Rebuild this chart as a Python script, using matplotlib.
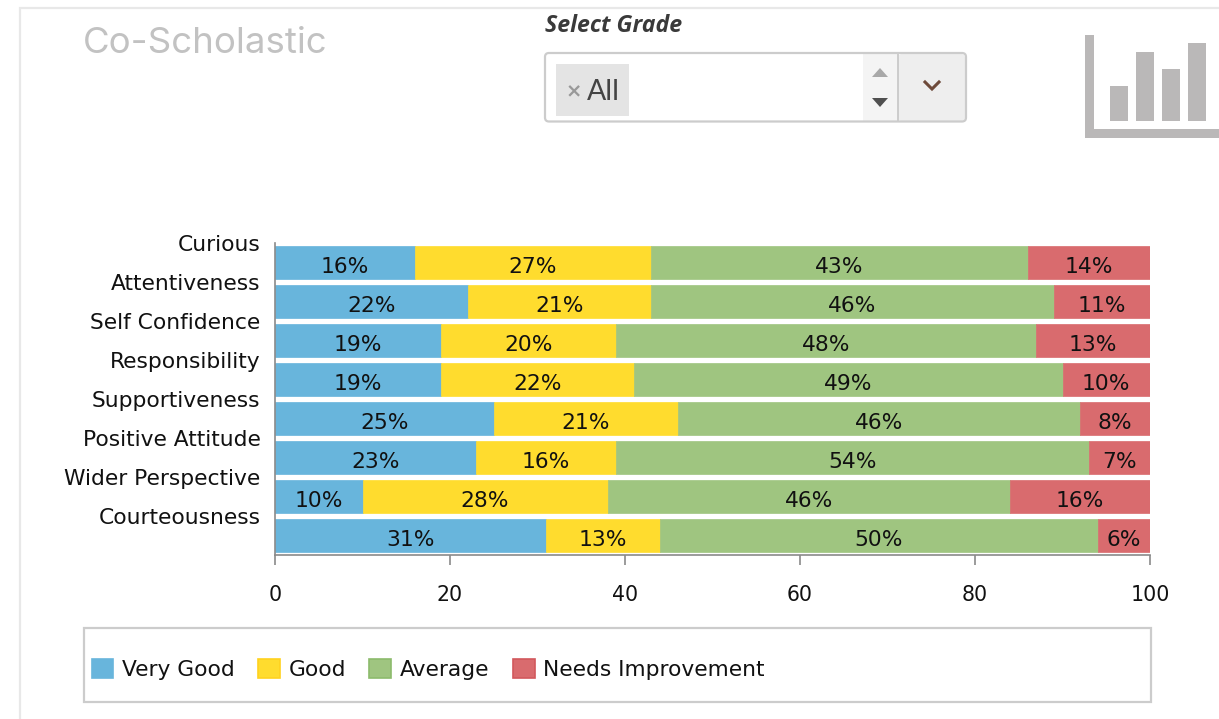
import matplotlib
matplotlib.use("Agg")
import matplotlib.pyplot as plt
from matplotlib.patches import Rectangle, Polygon, FancyBboxPatch
import matplotlib.transforms as mtrans
import numpy as np

plt.rcParams["font.family"] = "DejaVu Sans"

# Data
categories = ["Curious", "Attentiveness", "Self Confidence", "Responsibility",
              "Supportiveness", "Positive Attitude", "Wider Perspective", "Courteousness"]
very_good = [16, 22, 19, 19, 25, 23, 10, 31]
good = [27, 21, 20, 22, 21, 16, 28, 13]
average = [43, 46, 48, 49, 46, 54, 46, 50]
needs_improvement = [14, 11, 13, 10, 8, 7, 16, 6]
series_names = ["Very Good", "Good", "Average", "Needs Improvement"]
x_ticks = [0, 20, 40, 60, 80, 100]

series = [very_good, good, average, needs_improvement]
colors = ["#68b5dc", "#ffdc2e", "#9fc580", "#d96b6e"]
edges = ["#68b5dc", "#ffd21f", "#8cbb6c", "#d2585c"]

W, H = 1219, 719
fs = 15.7
fig = plt.figure(figsize=(W / 100, H / 100), dpi=100)

# Page furniture, in pixel coordinates
bg = fig.add_axes([0, 0, 1, 1])
bg.set_xlim(0, W)
bg.set_ylim(H, 0)
bg.axis("off")

bg.plot([19.5, 19.5, W], [H, 8, 8], color="#e8e8e8", lw=1.6, solid_joinstyle="miter")
bg.text(83, 43.5, "Co-Scholastic", fontsize=26.4, color="#c2c2c2", family="Inter",
        va="center", ha="left")
bg.text(545, 26.5, "Select Grade", fontsize=16.7, color="#3a3a3a", family="Open Sans",
        fontweight="bold", fontstyle="italic", va="center", ha="left")

# Select box
bg.add_patch(Rectangle((863, 54), 34, 67, fc="#f4f4f4", ec="none"))
bg.add_patch(FancyBboxPatch((898, 54), 67, 67, boxstyle="round,pad=0,rounding_size=4",
                            fc="#eeeeee", ec="none"))
bg.add_patch(FancyBboxPatch((545, 53), 421, 68.5, boxstyle="round,pad=0,rounding_size=4",
                            fc="none", ec="#cccccc", lw=1.6))
bg.plot([897.5, 897.5], [54, 121], color="#cccccc", lw=1.4)
bg.add_patch(Rectangle((556, 64), 73, 52, fc="#e4e4e4", ec="none"))
bg.text(566, 92, "×", fontsize=14, fontweight="bold", color="#999999", family="DejaVu Sans",
        va="center", ha="left")
bg.text(587, 92, "All", fontsize=20.5, color="#444444", family="Lato", va="center", ha="left")
bg.add_patch(Polygon([(872, 77), (888, 77), (880, 68)], fc="#a8a8a8", ec="none"))
bg.add_patch(Polygon([(872, 98), (888, 98), (880, 107)], fc="#505050", ec="none"))
bg.plot([925, 932, 939], [82, 89, 82], color="#6e4a3a", lw=2.2, solid_joinstyle="miter")

# Bar icon
bg.add_patch(Rectangle((1085, 35), 9, 103, fc="#bab8b8", ec="none"))
bg.add_patch(Rectangle((1085, 129), W - 1085, 9, fc="#bab8b8", ec="none"))
for x0, top in [(1110, 86), (1136, 52), (1162, 69), (1188, 43)]:
    bg.add_patch(Rectangle((x0, top), 18, 120.5 - top, fc="#bab8b8", ec="none"))

# Chart
ax = fig.add_axes([275 / W, 1 - 555 / H, 875 / W, 312 / H])
ax.patch.set_alpha(0)
ypos = np.arange(len(categories))
left = np.zeros(len(categories))
for vals, name, c in zip(series, series_names, colors):
    ax.barh(ypos, vals, left=left, height=0.87, color=c, edgecolor=c, lw=0.5, label=name)
    for y, v, l in zip(ypos, vals, left):
        ax.annotate(f"{v}%", (l + v / 2, y), xytext=(0, -3), textcoords="offset points",
                    ha="center", va="center", fontsize=fs, color="#111111")
    left += np.array(vals)

ax.set_xlim(0, 100)
ax.set_ylim(len(categories) - 0.5, -0.5)
ax.set_xticks(x_ticks)
ax.set_yticks(ypos)
ax.set_yticklabels(categories, fontsize=fs, color="#111111")
ax.tick_params(axis="y", length=0, pad=10.5)
for lab in ax.get_yticklabels():
    lab.set_transform(lab.get_transform() + mtrans.ScaledTranslation(0, 0.195, fig.dpi_scale_trans))
ax.tick_params(axis="x", length=7, width=1.2, color="#8a8a8a", labelsize=14.8, labelcolor="#111111", pad=14.5)
for s in ["top", "right"]:
    ax.spines[s].set_visible(False)
for s in ["left", "bottom"]:
    ax.spines[s].set_color("#8a8a8a")
    ax.spines[s].set_linewidth(1.2)

# Legend
bg.add_patch(Rectangle((84, 628), 1067, 74, fc="none", ec="#cccccc", lw=1.6))
handles = [Rectangle((0, 0), 1, 1, fc=c, ec=e, lw=1.2) for c, e in zip(colors, edges)]
fig.legend(handles, series_names, loc="center left", bbox_to_anchor=(91.5 / W, 1 - 669.5 / H),
           ncol=4, frameon=False, fontsize=fs, borderpad=0, borderaxespad=0,
           handlelength=1.0, handleheight=1.0, handletextpad=0.4, columnspacing=1.07,
           labelcolor="#111111")

fig.savefig("out.png", dpi=100)
